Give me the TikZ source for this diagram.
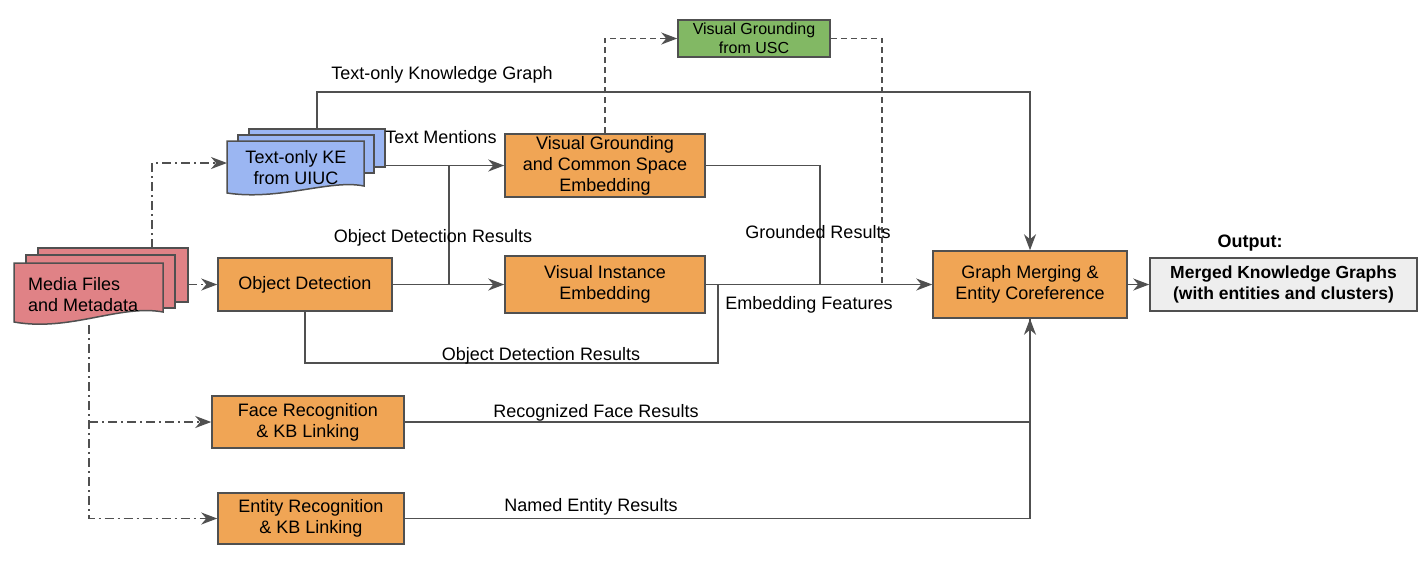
\documentclass[tikz,border=0pt]{standalone}
\usepackage{fontspec}
\setmainfont{Liberation Sans}
\usetikzlibrary{arrows.meta}
\definecolor{orangeF}{RGB}{240,165,85}
\definecolor{pinkF}{RGB}{224,130,134}
\definecolor{blueF}{RGB}{155,182,242}
\definecolor{greenF}{RGB}{130,184,100}
\definecolor{grayF}{RGB}{238,238,238}
\definecolor{strokeC}{RGB}{80,80,80}
\tikzset{
  box/.style={draw=strokeC, line width=1.5pt, fill=orangeF, align=center, inner sep=0pt, text=black},
  lbl/.style={inner sep=0pt, text=black, align=center},
  conn/.style={draw=strokeC, line width=1.5pt},
  arr/.style={-{Stealth[length=16pt,width=12pt,inset=5pt]}},
  dd/.style={dash pattern=on 9pt off 4pt on 2pt off 4pt},
  dsh/.style={dash pattern=on 6pt off 4pt},
  page/.style={draw=strokeC, line width=1.5pt}
}
\begin{document}
\begin{tikzpicture}[x=1pt,y=-1pt,font=\fontsize{18}{21}\selectfont]
\useasboundingbox (0,0) rectangle (1428,574);

% ---- media files stack
\path[page, fill=pinkF] (38,248) rectangle (188,302);
\path[page, fill=pinkF] (26,255) rectangle (175,308);
\path[page, fill=pinkF] (14,263) -- (163,263) -- (163,312)
   .. controls (120,304) and (70,332) .. (14,322) -- cycle;
\node[lbl, align=left, anchor=west] (media) at (28,294.5) {Media Files\\and Metadata};

% ---- text-only KE stack
\path[page, fill=blueF] (249,129) rectangle (385,167);
\path[page, fill=blueF] (238,135) rectangle (374,173);
\path[page, fill=blueF] (227,141) -- (364,141) -- (364,186)
   .. controls (330,179) and (280,201) .. (227,193) -- cycle;
\node[lbl] (ket) at (296,167.5) {Text-only KE\\from UIUC};

% ---- process boxes
\node[box, minimum width=174pt, minimum height=53pt] (od) at (305,284.5) {Object Detection};
\node[box, minimum width=200pt, minimum height=63pt] (vg) at (605,165.5) {Visual Grounding\\and Common Space\\Embedding};
\node[box, minimum width=200pt, minimum height=57pt] (vie) at (605,284.5) {Visual Instance\\Embedding};
\node[box, fill=greenF, minimum width=152pt, minimum height=37pt, font=\fontsize{16}{19}\selectfont] (usc) at (754,38.5) {Visual Grounding\\from USC};
\node[box, minimum width=194pt, minimum height=67pt] (gm) at (1030,284.5) {Graph Merging \&\\Entity Coreference};
\node[box, fill=grayF, minimum width=267pt, minimum height=53pt, font=\fontsize{17.5}{20.5}\selectfont\bfseries] (out) at (1283.5,284.5) {Merged Knowledge Graphs\\(with entities and clusters)};
\node[box, minimum width=192pt, minimum height=52pt] (face) at (308,422) {Face Recognition\\\& KB Linking};
\node[box, minimum width=186pt, minimum height=51pt] (ent) at (311,518.5) {Entity Recognition\\\& KB Linking};

% ---- coordinates
\coordinate (mediaR) at (188,284.5);
\coordinate (mediaT) at (152,248);
\coordinate (mediaB) at (89,325);
\coordinate (ketL) at (227,163);
\coordinate (ketR) at (385,165.5);
\coordinate (ketT) at (317,129);
\coordinate (kgTurn) at (317,92);
\coordinate (j1) at (449,284.5);
\coordinate (j2) at (449,165.5);
\coordinate (jg) at (820,284.5);
\coordinate (jd) at (882,284.5);
\coordinate (jo) at (718,284.5);
\coordinate (odB) at (718,363);

% ---- dash-dot inputs
\draw[conn, dd, arr] (mediaR) -- (od.west);
\draw[conn, dd, arr] (mediaT) |- (ketL);
\draw[conn, dd, arr] (mediaB) |- (ent.west);
\draw[conn, dd, arr] (mediaB |- face.west) -- (face.west);

% ---- solid connectors
\draw[conn, arr] (ketT) -- (kgTurn) -| (gm.north);
\draw[conn, arr] (ketR) -- (vg.west);
\draw[conn, arr] (od.east) -- (vie.west);
\draw[conn] (j1) -- (j2);
\draw[conn, arr] (vie.east) -- (gm.west);
\draw[conn] (vg.east) -| (jg);
\draw[conn] (od.south) |- (odB) -- (jo);
\draw[conn, arr] (face.east) -| (gm.south);
\draw[conn] (ent.east) -| (gm.south);
\draw[conn, arr] (gm.east) -- (out.west);

% ---- dashed USC loop
\draw[conn, dsh, arr] (vg.north) |- (usc.west);
\draw[conn, dsh] (usc.east) -| (jd);

% ---- labels
\node[lbl] (lkg) at (442,75) {Text-only Knowledge Graph};
\node[lbl] (ltm) at (441,137) {Text Mentions};
\node[lbl] (lod1) at (433,238) {Object Detection Results};
\node[lbl] (lgr) at (818,232) {Grounded Results};
\node[lbl] (lef) at (809,305) {Embedding Features};
\node[lbl] (lod2) at (541,356) {Object Detection Results};
\node[lbl] (lfr) at (596,413) {Recognized Face Results};
\node[lbl] (lne) at (591,507) {Named Entity Results};
\node[lbl, font=\fontsize{18}{21}\selectfont\bfseries] (lout) at (1250,243) {Output:};
\end{tikzpicture}
\end{document}
